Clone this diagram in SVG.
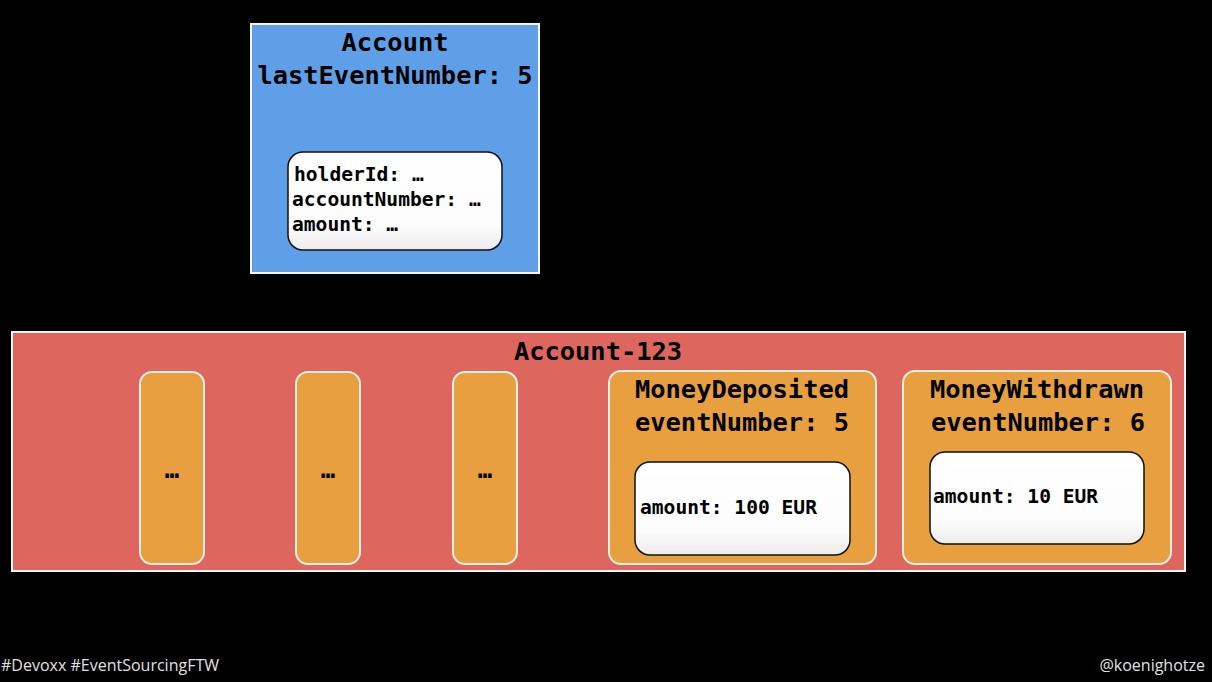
<svg xmlns="http://www.w3.org/2000/svg" width="1212" height="682" viewBox="0 0 1212 682">
  <style>
    .mono { font-family: "DejaVu Sans Mono", "Liberation Mono", monospace; font-weight: bold; fill: #000; }
    .title { font-size: 25.4px; text-anchor: middle; }
    .field { font-size: 19.6px; }
    .dots { font-size: 24px; text-anchor: middle; }
    .frame { stroke: #f4f4f4; stroke-width: 2; }
    .event { fill: #e79f40; stroke: #f6efe4; stroke-width: 2; }
    .payload { fill: url(#paper); stroke: #111; stroke-width: 1.5; }
    .foot { font-family: "Open Sans", "Liberation Sans", sans-serif; font-size: 16px; fill: #e0e0e0; }
  </style>
  <defs>
    <linearGradient id="paper" x1="0" y1="0" x2="0" y2="1">
      <stop offset="0" stop-color="#ffffff"/>
      <stop offset="0.75" stop-color="#fcfcfc"/>
      <stop offset="1" stop-color="#ececec"/>
    </linearGradient>
  </defs>
  <rect x="0" y="0" width="1212" height="682" fill="#000"/>

  <!-- aggregate state -->
  <g id="account">
    <rect x="251" y="24" width="288" height="249" fill="#5e9fe8" class="frame"/>
    <text x="395" y="51" class="mono title">Account</text>
    <text x="395" y="84" class="mono title">lastEventNumber: 5</text>
    <rect x="288" y="152" width="214" height="98" rx="15" class="payload"/>
    <text x="294" y="181" class="mono field">holderId: …</text>
    <text x="292" y="206" class="mono field">accountNumber: …</text>
    <text x="292" y="231" class="mono field">amount: …</text>
  </g>

  <!-- event stream -->
  <g id="stream">
    <rect x="12" y="332" width="1173" height="239" fill="#dd665e" class="frame"/>
    <text x="598" y="360" class="mono title">Account-123</text>
  </g>

  <g id="event-1">
    <rect x="140" y="372" width="64" height="192" rx="12" class="event"/>
    <text x="172" y="478" class="mono dots">…</text>
  </g>
  <g id="event-2">
    <rect x="296" y="372" width="64" height="192" rx="12" class="event"/>
    <text x="328" y="478" class="mono dots">…</text>
  </g>
  <g id="event-3">
    <rect x="453" y="372" width="64" height="192" rx="12" class="event"/>
    <text x="485" y="478" class="mono dots">…</text>
  </g>

  <g id="event-5">
    <rect x="609" y="371" width="267" height="193" rx="12" class="event"/>
    <text x="742" y="398" class="mono title">MoneyDeposited</text>
    <text x="742" y="431" class="mono title">eventNumber: 5</text>
    <rect x="635" y="462" width="215" height="93" rx="15" class="payload"/>
    <text x="640" y="514" class="mono field">amount: 100 EUR</text>
  </g>

  <g id="event-6">
    <rect x="903" y="371" width="268" height="193" rx="12" class="event"/>
    <text x="1037" y="398" class="mono title">MoneyWithdrawn</text>
    <text x="1038" y="431" class="mono title">eventNumber: 6</text>
    <rect x="930" y="452" width="214" height="92" rx="15" class="payload"/>
    <text x="933" y="503" class="mono field">amount: 10 EUR</text>
  </g>

  <g id="connectors"></g>

  <text x="1" y="671" class="foot">#Devoxx #EventSourcingFTW</text>
  <text x="1205" y="671" class="foot" text-anchor="end">@koenighotze</text>
</svg>
